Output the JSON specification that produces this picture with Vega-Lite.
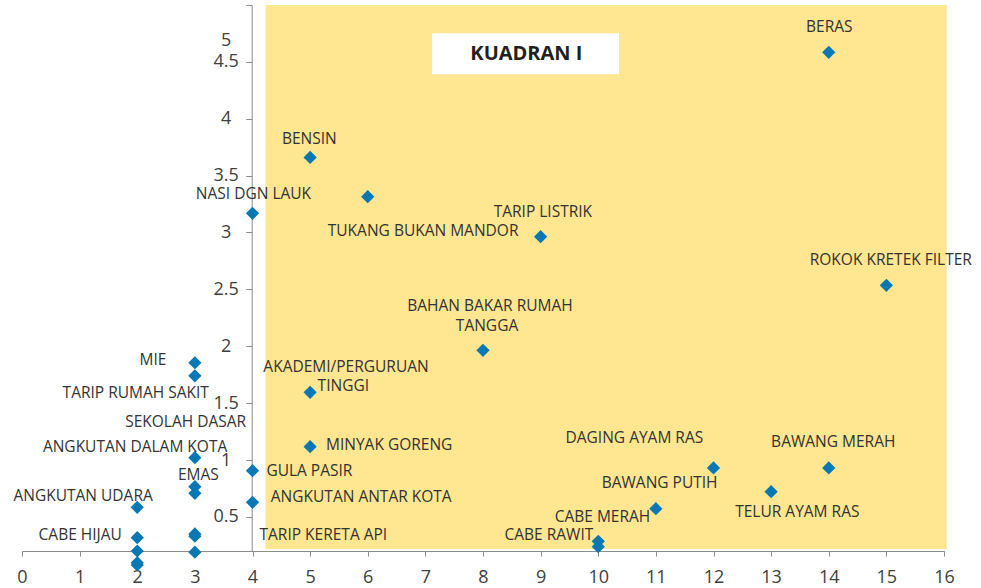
{
  "$schema": "https://vega.github.io/schema/vega-lite/v6.json",
  "width": 922,
  "height": 546,
  "autosize": {"type": "none"},
  "padding": {"left": 22, "top": 5, "right": 37, "bottom": 37},
  "background": "white",
  "config": {"view": {"stroke": null}, "font": "Open Sans"},
  "datasets": {
    "points": [
      {"x": 2, "y": 0.584}, {"x": 2, "y": 0.317}, {"x": 2, "y": 0.2}, {"x": 2, "y": 0.097}, {"x": 2, "y": 0.077},
      {"x": 3, "y": 1.855}, {"x": 3, "y": 1.74}, {"x": 3, "y": 1.02}, {"x": 3, "y": 0.765}, {"x": 3, "y": 0.707}, {"x": 3, "y": 0.35}, {"x": 3, "y": 0.33}, {"x": 3, "y": 0.19},
      {"x": 4, "y": 3.169}, {"x": 4, "y": 0.906}, {"x": 4, "y": 0.628},
      {"x": 5, "y": 3.66}, {"x": 5, "y": 1.595}, {"x": 5, "y": 1.117},
      {"x": 6, "y": 3.315},
      {"x": 8, "y": 1.964},
      {"x": 9, "y": 2.963},
      {"x": 10, "y": 0.285}, {"x": 10, "y": 0.238},
      {"x": 11, "y": 0.572},
      {"x": 12, "y": 0.93},
      {"x": 13, "y": 0.721},
      {"x": 14, "y": 4.584}, {"x": 14, "y": 0.93},
      {"x": 15, "y": 2.536}
    ],
    "labels": [
      {"label": "BERAS", "x": 14.009, "y": 4.807},
      {"label": "BENSIN", "x": 4.987, "y": 3.822},
      {"label": "NASI DGN LAUK", "x": 4.017, "y": 3.338},
      {"label": "TUKANG BUKAN MANDOR", "x": 6.961, "y": 3.013},
      {"label": "TARIP LISTRIK", "x": 9.039, "y": 3.183},
      {"label": "ROKOK KRETEK FILTER", "x": 15.077, "y": 2.758},
      {"label": "BAHAN BAKAR RUMAH", "x": 8.121, "y": 2.357},
      {"label": "TANGGA", "x": 8.07, "y": 2.181},
      {"label": "AKADEMI/PERGURUAN", "x": 5.623, "y": 1.82},
      {"label": "TINGGI", "x": 5.576, "y": 1.651},
      {"label": "MINYAK GORENG", "x": 6.372, "y": 1.132},
      {"label": "GULA PASIR", "x": 4.987, "y": 0.906},
      {"label": "ANGKUTAN ANTAR KOTA", "x": 5.887, "y": 0.677},
      {"label": "TARIP KERETA API", "x": 5.229, "y": 0.341},
      {"label": "CABE RAWIT", "x": 9.143, "y": 0.341},
      {"label": "CABE MERAH", "x": 10.073, "y": 0.502},
      {"label": "DAGING AYAM RAS", "x": 10.627, "y": 1.196},
      {"label": "BAWANG PUTIH", "x": 11.065, "y": 0.795},
      {"label": "BAWANG MERAH", "x": 14.078, "y": 1.156},
      {"label": "TELUR AYAM RAS", "x": 13.455, "y": 0.545},
      {"label": "MIE", "x": 2.274, "y": 1.879},
      {"label": "TARIP RUMAH SAKIT", "x": 1.974, "y": 1.586},
      {"label": "SEKOLAH DASAR", "x": 2.84, "y": 1.331},
      {"label": "ANGKUTAN DALAM KOTA", "x": 1.962, "y": 1.117},
      {"label": "EMAS", "x": 3.06, "y": 0.868},
      {"label": "ANGKUTAN UDARA", "x": 1.061, "y": 0.686},
      {"label": "CABE HIJAU", "x": 1.01, "y": 0.341}
    ]
  },
  "layer": [
    {
      "data": {"values": [{}]},
      "mark": {"type": "rect", "color": "#FFE690", "clip": false},
      "encoding": {
        "x": {"datum": 4.225, "type": "quantitative", "title": null},
        "x2": {"datum": 16.047},
        "y": {"datum": 0.218, "type": "quantitative", "title": null},
        "y2": {"datum": 5}
      }
    },
    {
      "data": {"values": [{}]},
      "mark": {"type": "rect", "color": "white", "clip": false},
      "encoding": {
        "x": {"datum": 7.117, "type": "quantitative", "title": null},
        "x2": {"datum": 10.36},
        "y": {"datum": 4.391, "type": "quantitative", "title": null},
        "y2": {"datum": 4.751}
      }
    },
    {
      "data": {"values": [{}]},
      "mark": {"type": "text", "text": "KUADRAN I", "font": "Open Sans", "fontWeight": "bold", "fontSize": 20, "color": "#231F20", "align": "center", "baseline": "middle", "clip": false},
      "encoding": {
        "x": {"datum": 8.753, "type": "quantitative", "title": null},
        "y": {"datum": 4.572, "type": "quantitative", "title": null}
      }
    },
    {
      "data": {"name": "points"},
      "mark": {"type": "point", "shape": "diamond", "filled": true, "size": 175, "color": "#0778B4", "opacity": 1, "clip": false},
      "encoding": {
        "x": {
          "field": "x", "type": "quantitative",
          "scale": {"domain": [0, 16], "nice": false, "zero": false},
          "axis": {
            "title": null, "grid": false, "format": "d",
            "values": [0, 1, 2, 3, 4, 5, 6, 7, 8, 9, 10, 11, 12, 13, 14, 15, 16],
            "domainColor": "#8C8C8C", "tickColor": "#8C8C8C", "tickSize": 5,
            "labelFont": "Open Sans", "labelFontSize": 18, "labelColor": "#404040",
            "labelPadding": 12, "labelFlush": false, "labelOverlap": false
          }
        },
        "y": {
          "field": "y", "type": "quantitative",
          "scale": {"domain": [0.2, 5], "nice": false, "zero": false},
          "axis": {
            "title": null, "grid": false, "offset": -229.7, "format": "~g",
            "values": [0.5, 1, 1.5, 2, 2.5, 3, 3.5, 4, 4.5, 5],
            "domainColor": "#8C8C8C", "tickColor": "#8C8C8C", "tickSize": 6,
            "labelFont": "Open Sans", "labelFontSize": 18, "labelColor": "#404040",
            "labelAlign": "center", "labelPadding": 20,
            "labelOffset": {"condition": {"test": "datum.value >= 5", "value": 35}, "value": 0},
            "labelFlush": false, "labelOverlap": false
          }
        }
      }
    },
    {
      "data": {"name": "labels"},
      "mark": {"type": "text", "font": "Open Sans", "fontSize": 15.5, "color": "#333333", "align": "center", "baseline": "middle", "clip": false},
      "encoding": {
        "x": {"field": "x", "type": "quantitative", "title": null},
        "y": {"field": "y", "type": "quantitative", "title": null},
        "text": {"field": "label"}
      }
    }
  ]
}
